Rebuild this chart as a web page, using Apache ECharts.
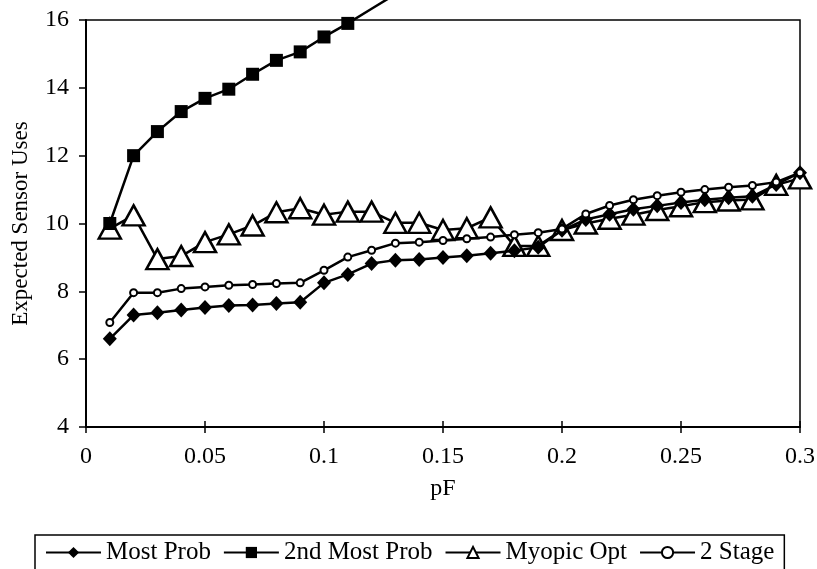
<!doctype html>
<html>
	<head>
		<meta charset="UTF-8">
		<title></title>
		<script src="https://cdn.jsdelivr.net/npm/echarts@6/dist/echarts.min.js"></script>
		<style>
			html, body { margin: 0; padding: 0; background: #fff; }
			#chart { width: 817px; height: 569px; }
		</style>
	</head>
	<body>
		<div id="chart"></div>
		<script>
			// pF values
			var pF = [0.01, 0.02, 0.03, 0.04, 0.05, 0.06, 0.07, 0.08, 0.09, 0.10,
				0.11, 0.12, 0.13, 0.14, 0.15, 0.16, 0.17, 0.18, 0.19, 0.20,
				0.21, 0.22, 0.23, 0.24, 0.25, 0.26, 0.27, 0.28, 0.29, 0.30];
			var mostProb = [6.6, 7.3, 7.37, 7.45, 7.52, 7.58, 7.6, 7.64, 7.68, 8.25,
				8.5, 8.82, 8.92, 8.94, 9.0, 9.05, 9.12, 9.2, 9.3, 9.8,
				10.12, 10.27, 10.42, 10.52, 10.62, 10.7, 10.76, 10.8, 11.15, 11.5];
			// 2nd Most Prob runs off the top of the chart after 0.11
			var secondPF = [0.01, 0.02, 0.03, 0.04, 0.05, 0.06, 0.07, 0.08, 0.09, 0.10, 0.11, 0.12, 0.13];
			var secondMostProb = [10.0, 12.0, 12.71, 13.3, 13.69, 13.96, 14.4, 14.81, 15.06, 15.5, 15.9, 16.33, 16.76];
			var myopicOpt = [9.85, 10.24, 8.95, 9.04, 9.45, 9.68, 9.94, 10.33, 10.45, 10.26,
				10.35, 10.35, 10.02, 10.02, 9.81, 9.86, 10.18, 9.34, 9.34, 9.81,
				10.0, 10.14, 10.26, 10.4, 10.51, 10.63, 10.68, 10.71, 11.14, 11.33];
			var twoStage = [7.08, 7.96, 7.96, 8.08, 8.13, 8.18, 8.2, 8.23, 8.25, 8.62,
				9.01, 9.21, 9.42, 9.45, 9.5, 9.55, 9.6, 9.67, 9.73, 9.84,
				10.28, 10.53, 10.7, 10.82, 10.92, 11.0, 11.07, 11.12, 11.22, 11.5];
			var seriesNames = ['Most Prob', '2nd Most Prob', 'Myopic Opt', '2 Stage'];

			var font = '"Liberation Serif", "DejaVu Serif", serif';

			function pairs(xs, ys) {
				var out = [];
				for(var i = 0; i < ys.length; i++) {
					out.push([xs[i], ys[i]]);
				}
				return out;
			}

			var secondData = pairs(secondPF, secondMostProb).map(function(p) {
				// points above the top are only there for the line, no marker
				if(p[1] > 16) {
					return { value: p, symbol: 'none' };
				}
				return p;
			});

			var myChart = echarts.init(document.getElementById('chart'));

			var option = {
				backgroundColor: '#fff',
				animation: false,
				grid: {
					left: 86,
					right: 17,
					top: 20,
					bottom: 142,
					containLabel: false,
					outerBoundsMode: 'none',
					show: true,
					borderColor: '#000',
					borderWidth: 1.5
				},
				legend: {
					data: seriesNames,
					left: 35,
					top: 535,
					padding: [5, 10, 30, 10],
					borderColor: '#000',
					borderWidth: 1.5,
					itemWidth: 55,
					itemHeight: 14,
					itemGap: 12,
					textStyle: {
						fontFamily: font,
						fontSize: 25,
						color: '#000'
					}
				},
				xAxis: [{
					type: 'value',
					min: 0,
					max: 0.3,
					interval: 0.05,
					name: 'pF',
					nameLocation: 'middle',
					nameGap: 50,
					nameTextStyle: { fontFamily: font, fontSize: 24, color: '#000' },
					axisLine: { lineStyle: { color: '#000', width: 2 } },
					axisTick: { length: 6, lineStyle: { color: '#000', width: 1.5 } },
					axisLabel: {
						margin: 18,
						fontFamily: font,
						fontSize: 24,
						color: '#000'
					},
					splitLine: { show: false }
				}, {
					// inner half of the crossing ticks
					type: 'value',
					position: 'bottom',
					min: 0,
					max: 0.3,
					interval: 0.05,
					axisLine: { show: false },
					axisTick: { inside: true, length: 6, lineStyle: { color: '#000', width: 1.5 } },
					axisLabel: { show: false },
					splitLine: { show: false }
				}],
				yAxis: {
					type: 'value',
					min: 4,
					max: 16,
					interval: 2,
					name: 'Expected Sensor Uses',
					nameLocation: 'middle',
					nameGap: 54,
					nameTextStyle: { fontFamily: font, fontSize: 23, color: '#000' },
					axisLine: { show: true, lineStyle: { color: '#000', width: 2 } },
					axisTick: { show: true, length: 7, lineStyle: { color: '#000', width: 1.5 } },
					axisLabel: {
						margin: 17,
						fontFamily: font,
						fontSize: 24,
						color: '#000'
					},
					splitLine: { show: false }
				},
				series: [{
					name: seriesNames[0],
					type: 'line',
					data: pairs(pF, mostProb),
					symbol: 'diamond',
					symbolSize: [14, 15],
					lineStyle: { color: '#000', width: 2.5 },
					itemStyle: { color: '#000' },
					z: 3
				}, {
					name: seriesNames[1],
					type: 'line',
					data: secondData,
					clip: false,
					symbol: 'rect',
					symbolSize: 13,
					lineStyle: { color: '#000', width: 2.5 },
					itemStyle: { color: '#000' },
					z: 3
				}, {
					name: seriesNames[2],
					type: 'line',
					data: pairs(pF, myopicOpt),
					symbol: 'triangle',
					symbolSize: [22, 20],
					lineStyle: { color: '#000', width: 2.5 },
					itemStyle: { color: '#fff', borderColor: '#000', borderWidth: 2.5 },
					z: 2
				}, {
					name: seriesNames[3],
					type: 'line',
					data: pairs(pF, twoStage),
					symbol: 'circle',
					symbolSize: 7,
					lineStyle: { color: '#000', width: 2.5 },
					itemStyle: { color: '#fff', borderColor: '#000', borderWidth: 2 },
					z: 4
				}]
			};

			myChart.setOption(option);
		</script>
	</body>
</html>
